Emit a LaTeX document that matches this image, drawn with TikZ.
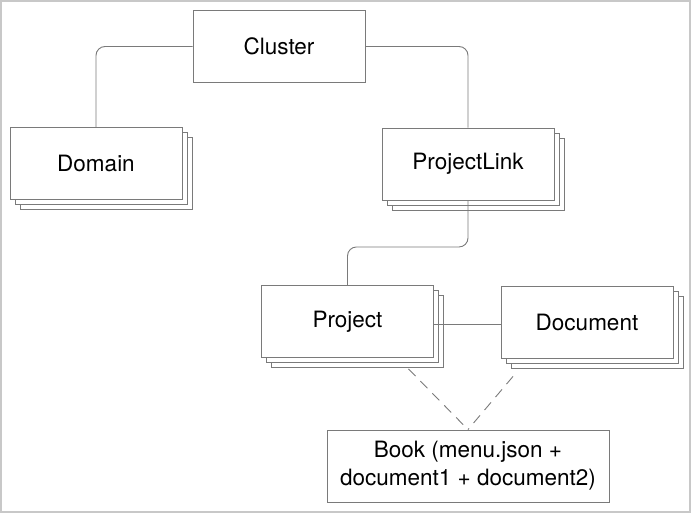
\documentclass[tikz,border=0pt]{standalone}
\usepackage{fontspec}
\setmainfont{TeX Gyre Heros}
\usetikzlibrary{shadows,calc}
\definecolor{linegray}{HTML}{7A7A7A}
\definecolor{framegray}{HTML}{C8C8C8}
\tikzset{
    entity/.style={draw=linegray, line width=0.9pt, fill=white, minimum width=172pt,
        minimum height=72pt, inner sep=0pt, font=\fontsize{22.5}{28}\selectfont},
    stacked/.style={entity,
        copy shadow={shadow xshift=10pt, shadow yshift=-10pt, draw=linegray},
        copy shadow={shadow xshift=5pt, shadow yshift=-5pt, draw=linegray}},
    link/.style={draw=linegray, line width=0.9pt, rounded corners=9pt},
    loose/.style={draw=linegray, line width=0.9pt, dash pattern=on 10pt off 7pt}
}
\begin{document}
\begin{tikzpicture}
    [x=1pt,y=-1pt]
    \useasboundingbox (0,0) rectangle (691,513);
    %frame
    \draw[framegray, line width=1.5pt] (1,1) rectangle (690,512);
    %boxes
    \node[entity] (cluster) at (279,46.5) {Cluster};
    \node[stacked] (domain) at (96,163.5) {Domain};
    \node[stacked] (plink) at (468,164) {ProjectLink};
    \node[stacked] (project) at (347.5,321.5) {Project};
    \node[stacked] (document) at (587,322) {Document};
    \node[entity, minimum width=282pt, align=center] (book) at (468,466)
    {Book (menu.json +\\document1 + document2)};
    %links
    \draw[link] (cluster.west) -| (domain.north);
    \draw[link] (cluster.east) -| (plink.north);
    \draw[link] (plink.south) |- ($(plink.south)!0.55!(project.north)$) -| (project.north);
    \draw[link] ([yshift=-3pt]project.east) -- ([yshift=-3pt]project.east -| document.west);
    %book parts
    \coordinate (projfoot) at ($(project.south)+(61,11)$);
    \coordinate (docfoot) at ($(document.south)+(-74,18)$);
    \draw[loose] (projfoot) -- (book.north);
    \draw[loose] (docfoot) -- (book.north);
\end{tikzpicture}
\end{document}
